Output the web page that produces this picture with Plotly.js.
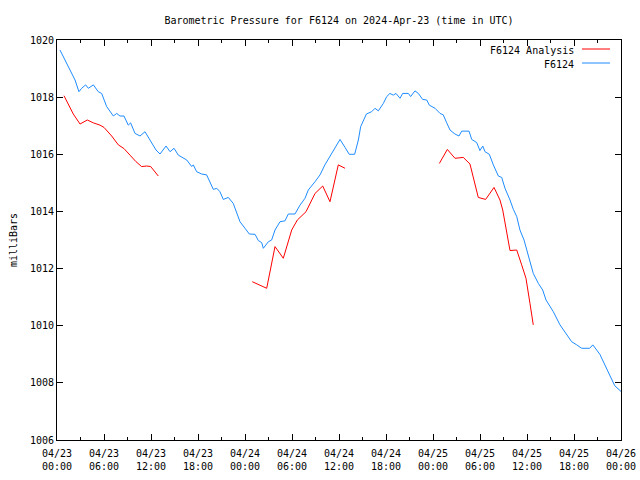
<!DOCTYPE html>
<html><head><meta charset="utf-8">
<script src="https://cdn.plot.ly/plotly-3.0.1.min.js"></script>
<style>html,body{margin:0;padding:0;background:#fff}#chart{width:640px;height:480px}</style>
</head><body><div id="chart"></div>
<script>
// hours since 2024-04-23 00:00 UTC
const stationHours = [0.38,1.02,1.66,2.3,2.8,3.15,3.66,4.0,4.64,5.27,5.7,6.34,7.19,7.62,8.04,8.55,9.1,9.4,9.96,10.6,11.23,11.87,12.64,13.15,13.92,14.43,14.94,15.49,16.56,17.2,17.4,17.83,18.47,19.1,19.53,19.96,20.39,20.8,21.23,21.87,22.5,22.94,23.36,24.0,24.55,25.28,25.7,26.13,26.34,26.98,27.4,27.83,28.47,29.1,29.53,30.38,31.02,31.66,32.08,32.94,33.58,34.2,34.85,35.27,36.13,36.77,37.3,38.0,38.47,38.77,39.1,39.5,40.17,40.6,41.02,41.66,42.09,42.5,42.93,43.28,43.79,44.13,44.85,45.15,45.7,46.13,46.68,47.2,47.53,48.26,48.9,49.31,49.75,50.17,50.8,51.32,51.66,52.6,52.94,53.58,53.99,54.35,54.64,55.19,55.7,56.34,56.77,57.19,57.83,58.26,58.69,59.1,59.62,60.17,60.8,61.45,62.0,62.43,63.36,64.21,64.98,65.7,66.35,66.98,68.0,68.4,69.3,70.0,70.6,71.2,72.0];
const stationPressure = [1019.65,1019.3,1018.95,1018.6,1018.19,1018.31,1018.43,1018.31,1018.43,1018.19,1018.13,1017.67,1017.34,1017.43,1017.34,1017.34,1017.02,1017.1,1016.73,1016.64,1016.79,1016.5,1016.15,1016.01,1016.29,1016.09,1016.21,1015.97,1015.8,1015.57,1015.63,1015.39,1015.31,1015.28,1015.04,1014.77,1014.81,1014.69,1014.42,1014.49,1014.28,1013.93,1013.64,1013.41,1013.21,1013.2,1012.98,1012.91,1012.71,1012.94,1013.0,1013.35,1013.64,1013.67,1013.91,1013.91,1014.22,1014.46,1014.75,1015.04,1015.28,1015.63,1015.92,1016.15,1016.52,1016.24,1016.0,1016.0,1016.5,1016.97,1017.2,1017.41,1017.49,1017.61,1017.52,1017.78,1018.02,1018.13,1018.07,1018.13,1017.96,1018.13,1018.13,1018.02,1018.22,1018.13,1017.92,1017.9,1017.72,1017.61,1017.43,1017.38,1017.1,1016.85,1016.71,1016.64,1016.81,1016.81,1016.52,1016.41,1016.13,1016.29,1016.09,1016.0,1015.63,1015.24,1015.19,1014.81,1014.4,1014.07,1013.82,1013.35,1013.0,1012.42,1011.83,1011.48,1011.25,1010.9,1010.49,1010.03,1009.73,1009.44,1009.33,1009.21,1009.21,1009.33,1009.0,1008.6,1008.2,1007.9,1007.7];
const analysisHours = [0.89,1.45,2.08,2.94,3.87,4.64,5.49,6.0,6.98,7.83,8.55,9.32,10.09,10.8,11.45,11.96,12.93,null,24.93,26.77,27.83,28.89,29.96,30.68,31.79,32.94,33.92,34.85,35.91,36.77,null,48.81,49.83,50.81,51.87,52.72,53.78,54.72,55.79,56.55,56.9,57.83,58.69,59.32,59.87,60.38,60.8];
const analysisPressure = [1018.05,1017.72,1017.41,1017.06,1017.2,1017.1,1017.02,1016.94,1016.64,1016.33,1016.2,1015.97,1015.74,1015.57,1015.59,1015.57,1015.24,null,1011.54,1011.31,1012.77,1012.36,1013.35,1013.7,1013.99,1014.63,1014.89,1014.34,1015.63,1015.51,null,1015.68,1016.17,1015.86,1015.89,1015.66,1014.49,1014.42,1014.84,1014.4,1014.05,1012.63,1012.65,1012.13,1011.66,1010.78,1010.03];
const xTickVals = [0,6,12,18,24,30,36,42,48,54,60,66,72];
const xTickText = ['04/23<br>00:00','04/23<br>06:00','04/23<br>12:00','04/23<br>18:00','04/24<br>00:00','04/24<br>06:00','04/24<br>12:00','04/24<br>18:00','04/25<br>00:00','04/25<br>06:00','04/25<br>12:00','04/25<br>18:00','04/26<br>00:00'];
const yTickVals = [1006,1008,1010,1012,1014,1016,1018,1020];
const seriesNames = ['F6124 Analysis','F6124'];
const seriesColors = ['#ff0000','#1e8cff'];

const fam = 'DejaVu Sans Mono, monospace';
const font = {family:fam, size:10, color:'#000'};
const traces = [
  {x:analysisHours, y:analysisPressure, type:'scatter', mode:'lines', name:seriesNames[0], connectgaps:false, line:{color:seriesColors[0], width:1}, showlegend:false},
  {x:stationHours, y:stationPressure, type:'scatter', mode:'lines', name:seriesNames[1], line:{color:seriesColors[1], width:1}, showlegend:false}
];
const layout = {
  width:640, height:480,
  margin:{l:57, r:19, t:40, b:40},
  paper_bgcolor:'#fff', plot_bgcolor:'#fff',
  font:font,
  title:{text:'Barometric Pressure for F6124 on 2024-Apr-23 (time in UTC)', font:font, xref:'paper', x:0.5, xanchor:'center', yref:'container', y:1-20/480, yanchor:'middle'},
  xaxis:{range:[0,72], tickmode:'array', tickvals:xTickVals, ticktext:xTickText, ticks:'inside', ticklen:6, tickcolor:'#000',
    showline:true, linecolor:'#000', linewidth:1, mirror:'allticks', showgrid:false, zeroline:false,
    ticklabelstandoff:4,
    minor:{tickmode:'linear', tick0:0, dtick:3, ticks:'inside', ticklen:3, tickcolor:'#000', showgrid:false},
    tickfont:font},
  yaxis:{range:[1006,1020], tickmode:'array', tickvals:yTickVals, ticks:'inside', ticklen:6, tickcolor:'#000',
    showline:true, linecolor:'#000', linewidth:1, mirror:'allticks', showgrid:false, zeroline:false,
    tickfont:font,
    title:{text:'milliBars', font:font, standoff:10}},
  annotations:[
    {xref:'paper', yref:'paper', x:(576-57)/564, y:(440-50)/400, text:seriesNames[0], showarrow:false, xanchor:'right', yanchor:'middle', font:font},
    {xref:'paper', yref:'paper', x:(576-57)/564, y:(440-64)/400, text:seriesNames[1], showarrow:false, xanchor:'right', yanchor:'middle', font:font}
  ],
  shapes:[
    {type:'line', xref:'paper', yref:'paper', x0:(582-57)/564, x1:(610-57)/564, y0:(440-49)/400, y1:(440-49)/400, line:{color:seriesColors[0], width:1}},
    {type:'line', xref:'paper', yref:'paper', x0:(582-57)/564, x1:(610-57)/564, y0:(440-63)/400, y1:(440-63)/400, line:{color:seriesColors[1], width:1}}
  ]
};
Plotly.newPlot('chart', traces, layout, {displayModeBar:false, staticPlot:true});
</script>
</body></html>
